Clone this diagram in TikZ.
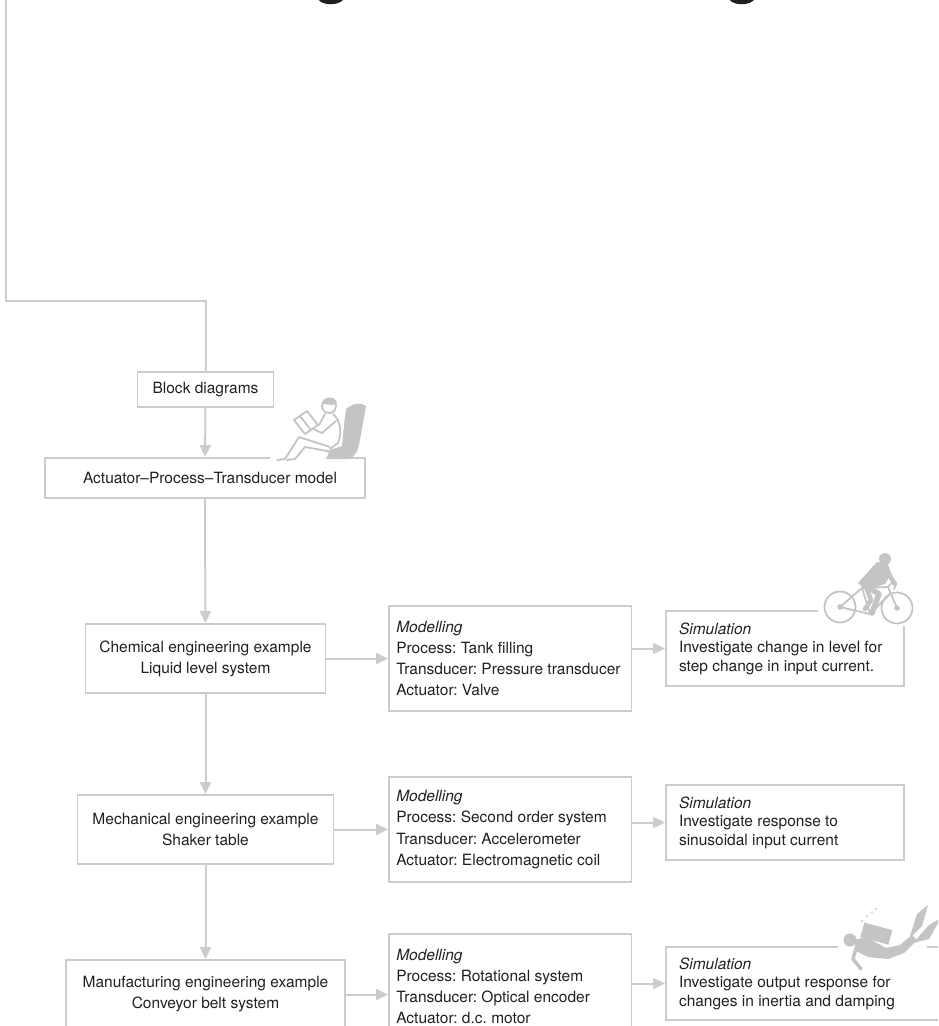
\documentclass[tikz,border=0pt]{standalone}
\usepackage{fontspec}
\setmainfont{TeX Gyre Heros}
\usetikzlibrary{arrows.meta}
\definecolor{linegray}{HTML}{CCCCCC}
\definecolor{artgray}{HTML}{C4C4C4}
\definecolor{ink}{HTML}{231F20}
\frenchspacing
\tikzset{
  link/.style={draw=linegray, line width=2pt},
  feed/.style={link, -{Triangle[length=12pt,width=11pt]}},
  topic/.style={draw=linegray, line width=1.8pt, text=ink, align=center, inner sep=0pt,
    font=\fontsize{15.5}{21}\selectfont},
  stage/.style={draw=linegray, line width=1.8pt, text=ink, align=flush left, inner ysep=0pt},
  modelbox/.style={stage, inner xsep=7.25pt, text width=228pt, minimum height=105pt,
    font=\fontsize{15.5}{21.3}\selectfont},
  simbox/.style={stage, inner xsep=13pt, minimum height=75pt,
    font=\fontsize{15.5}{18.5}\selectfont},
  art/.style={draw=artgray, line width=1.8pt, line cap=round, line join=round},
}
\begin{document}
\begin{tikzpicture}[x=1pt, y=-1pt]
\useasboundingbox (0,0) rectangle (938,1026);
\clip (0,0) rectangle (938,1026);

% bits of the heading above
\fill[ink] (318,-1) .. controls (322,6) and (339,6) .. (344,-1) -- cycle;
\fill[ink] (729,-1) .. controls (733,6) and (750,6) .. (755,-1) -- cycle;

\node[topic, minimum width=136pt, minimum height=35pt] (blockd) at (205.5,389.5) {Block diagrams};
\node[topic, minimum width=320pt, minimum height=40pt] (aptm) at (205,478) {\hspace{10pt}Actuator--Process--Transducer model};

\node[topic, minimum width=240pt, minimum height=69pt] (chem) at (205.5,658.5) {Chemical engineering example\\Liquid level system};
\node[topic, minimum width=256pt, minimum height=69pt] (mech) at (205.5,829.5) {Mechanical engineering example\\Shaker table};
\node[topic, minimum width=279pt, minimum height=69pt] (manuf) at (205.5,994.5) {Manufacturing engineering example\\Conveyor belt system};

\node[modelbox] (chemmod) at (510.25,658.5) {\textit{Modelling}\\Process: Tank filling\\Transducer: Pressure transducer\\Actuator: Valve};
\node[modelbox] (mechmod) at (510.25,829.5) {\textit{Modelling}\\Process: Second order system\\Transducer: Accelerometer\\Actuator: Electromagnetic coil};
\node[modelbox] (manufmod) at (510.25,986.5) {\textit{Modelling}\\Process: Rotational system\\Transducer: Optical encoder\\Actuator: d.c. motor};

\node[simbox, text width=212pt] (chemsim) at (785,648.5) {\textit{Simulation}\\Investigate change in level for\\step change in input current.};
\node[simbox, text width=212pt] (mechsim) at (785,822.5) {\textit{Simulation}\\Investigate response to\\sinusoidal input current};
\node[simbox, text width=250pt, minimum height=73pt] (manufsim) at (804,983.5) {\textit{Simulation}\\Investigate output response for\\changes in inertia and damping};

\coordinate (origin) at (6,-5);
\coordinate (bend) at (6,301);
\draw[link] (origin) -- (bend) -| (blockd.north);
\draw[feed] (blockd) -- (aptm);
\draw[feed] (aptm) -- (chem);
\draw[feed] (chem) -- (mech);
\draw[feed] (mech) -- (manuf);
\draw[feed] (chem) -- (chemmod);
\draw[feed] (mech) -- (mechmod);
\draw[feed] (manuf.east) -- (manuf.east -| manufmod.west);
\draw[feed] (chemmod.east |- chemsim.west) -- (chemsim.west);
\draw[feed] (mechmod.east |- mechsim.west) -- (mechsim.west);
\draw[feed] (manufmod.east |- manufsim.west) -- (manufsim.west);

% reader in his armchair
\fill[white] (270,450) rectangle (350,464);
\fill[artgray] (346,409) .. controls (353,403) and (362,402) .. (366,406)
  -- (360,440) .. controls (358,451) and (355,457) .. (349,459)
  -- (326,459) -- (330,450) -- (342,446) -- (344,425) -- cycle;
\draw[art, fill=white] (329,406) circle (7);
\fill[artgray] (322,404) .. controls (323,396) and (335,395) .. (337,403) -- (333,405) -- (325,404) -- cycle;
\draw[art] (333,414) .. controls (341,421) and (342,433) .. (338,443) -- (330,449);
\draw[art] (325,414) -- (319,425);
\draw[art] (336,421) -- (322,433) -- (311,428);
\draw[art, fill=white] (294,420) -- (307,411) -- (318,425) -- (305,434) -- cycle;
\draw[art] (300,416) -- (311,430);
\draw[art] (330,447) -- (299,437) -- (285,459) -- (277,460);
\draw[art] (333,452) -- (305,447) -- (295,459) -- (287,460);

% cyclist
\fill[white] (818,600) rectangle (912,626);
\draw[art] (840,607) circle (15.5) (897,608) circle (15.5);
\fill[artgray] (840,607) circle (2.8) (897,608) circle (2.8);
\draw[art] (840,607) -- (870,614) -- (862,588) -- cycle (862,588) -- (888,587) -- (897,608);
\draw[art] (870,614) -- (890,594) (888,587) .. controls (892,580) and (898,583) .. (894,589);
\fill[artgray] (877,562) -- (888,564) -- (891,574) -- (885,584) -- (866,590) -- (858,583) -- cycle;
\fill[artgray] (885,559) circle (6);
\draw[art, line width=4.5pt] (886,567) -- (891,578) -- (895,584);
\draw[art, line width=5.5pt] (864,585) -- (879,594) -- (872,613);
\draw[art, line width=4.5pt] (866,587) -- (871,600) -- (865,609);

% diver
\fill[white] (838,940) rectangle (927,953);
\fill[artgray, rotate around={-15:(876,933)}] (862,926) rectangle (891,941);
\fill[artgray] (854,940) -- (866,937) -- (886,948) -- (900,945) -- (912,935) -- (917,940)
  -- (904,953) -- (888,959) -- (868,957) -- (856,951) -- cycle;
\fill[artgray] (850,940) circle (6.5);
\draw[art, line width=3.5pt] (856,948) -- (853,959) -- (861,969);
\fill[artgray] (909,939) -- (917,914) -- (928,905) -- (922,926) -- cycle;
\fill[artgray] (913,943) -- (929,925) -- (941,918) -- (929,939) -- cycle;
\fill[artgray] (862,921) circle (1.2) (867,916) circle (1.2) (872,912) circle (1) (876,909) circle (1);
\end{tikzpicture}
\end{document}
